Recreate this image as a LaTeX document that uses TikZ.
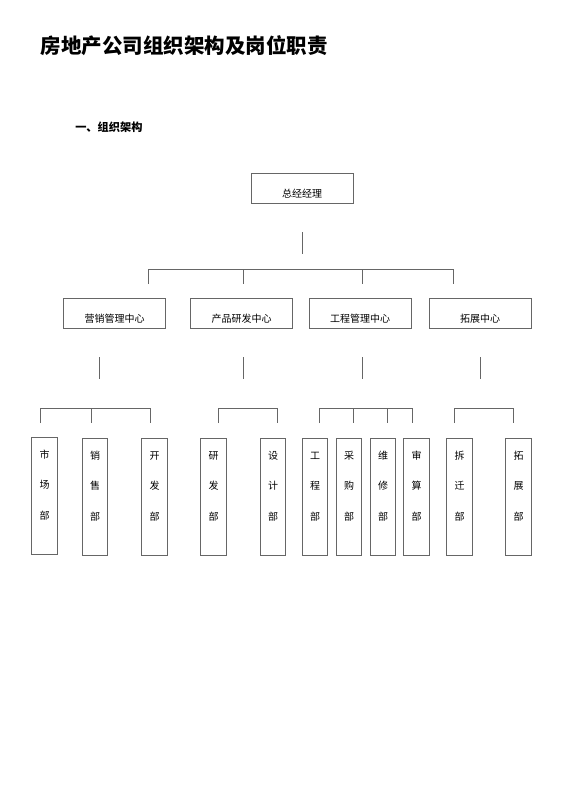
\documentclass[tikz,border=0pt]{standalone}
\usepackage{fontspec}
\setmainfont{Noto Sans CJK SC}
\begin{document}
\begin{tikzpicture}[x=1pt, y=-1pt, line width=0.9pt,
  link/.style={draw=black!60},
  unit/.style={draw=black!60, minimum width=102pt, inner ysep=0pt, text height=24pt, text depth=6pt, font=\fontsize{10}{12}\selectfont},
  dept/.style={draw=black!60, minimum width=25.5pt, inner xsep=0pt, inner ysep=0pt, align=center, anchor=north, text height=82pt, text depth=35pt, font=\fontsize{10}{30.5}\selectfont}]
\useasboundingbox (0,0) rectangle (560,792);

\node[anchor=west, font=\bfseries\fontsize{20.5}{24}\selectfont] (title) at (37,46) {房地产公司组织架构及岗位职责};
\node[anchor=west, font=\bfseries\fontsize{11.2}{14}\selectfont] (sect) at (71.5,127) {一、组织架构};

\node[unit] (gm) at (302,188) {总经经理};

\node[unit] (mkt) at (114.5,313) {营销管理中心};
\node[unit] (rd) at (241.5,313) {产品研发中心};
\node[unit] (eng) at (360,313) {工程管理中心};
\node[unit] (exp) at (480,313) {拓展中心};

\node[dept] (shichang) at (44.5,437) {市\\场\\部};
\node[dept] (xiaoshou) at (95,438) {销\\售\\部};
\node[dept] (kaifa) at (154.5,438) {开\\发\\部};
\node[dept] (yanfa) at (213.5,438) {研\\发\\部};
\node[dept] (sheji) at (273,438) {设\\计\\部};
\node[dept] (gongcheng) at (315,438) {工\\程\\部};
\node[dept] (caigou) at (349,438) {采\\购\\部};
\node[dept] (weixiu) at (383,438) {维\\修\\部};
\node[dept] (shensuan) at (416.5,438) {审\\算\\部};
\node[dept] (chaiqian) at (459.5,438) {拆\\迁\\部};
\node[dept] (tuozhan) at (518.5,438) {拓\\展\\部};

\draw[link] ([yshift=-29pt]gm.south) -- ([yshift=-51pt]gm.south);
\coordinate (bar-l) at (148,284);
\coordinate (bar-r) at (453,284);
\draw[link] (bar-l) -- ++(0,-15) -| (bar-r);
\draw[link] (243,269) -- (243,284);
\draw[link] (362,269) -- (362,284);

\foreach \c/\x in {mkt/99, rd/243, eng/362, exp/480}
  \draw[link] (\x,357) -- (\x,379);

\draw[link] (40,423) -- (40,408) -| (150,423);
\draw[link] (91,408) -- (91,423);
\draw[link] (218,423) -- (218,408) -| (277,423);
\draw[link] (319,423) -- (319,408) -| (412,423);
\draw[link] (353,408) -- (353,423);
\draw[link] (387,408) -- (387,423);
\draw[link] (454,423) -- (454,408) -| (513,423);
\end{tikzpicture}
\end{document}
